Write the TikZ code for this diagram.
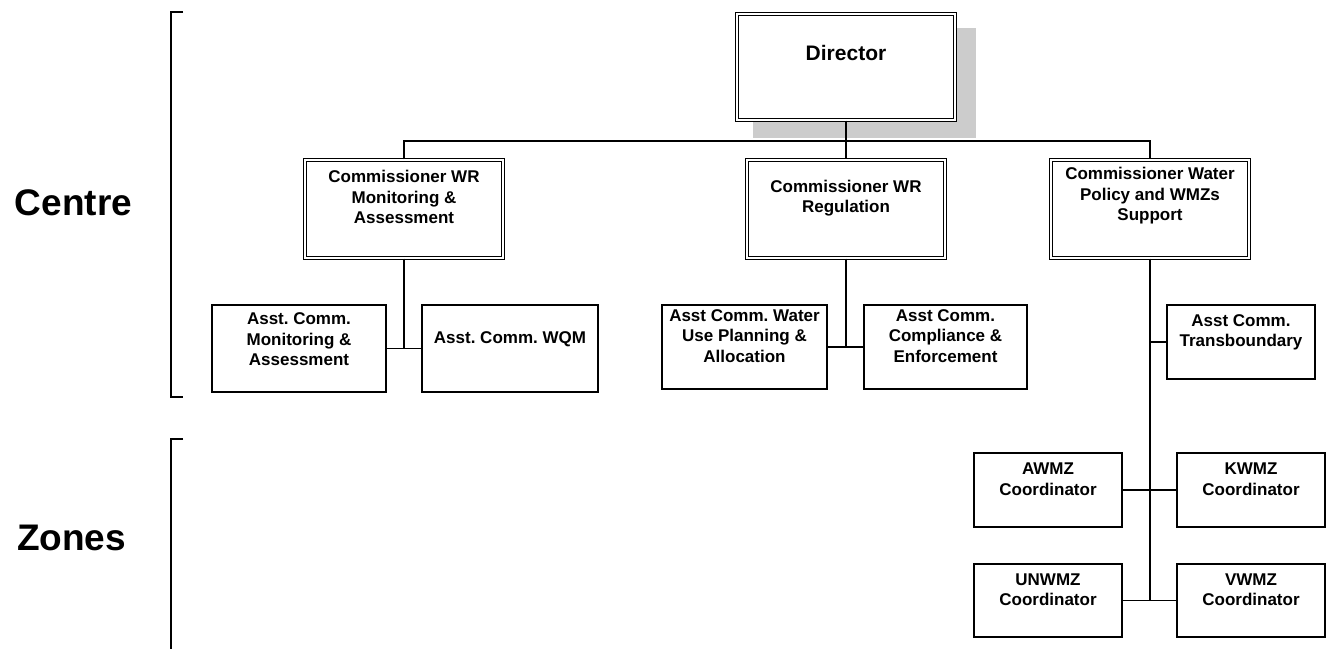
\documentclass[tikz,border=0pt]{standalone}
\usepackage{fontspec}
\setmainfont{Liberation Sans}
\frenchspacing
\begin{document}
\begin{tikzpicture}[x=1pt,y=-1pt,
  box/.style={draw, line width=1.6pt, fill=white, inner sep=0pt, rectangle},
  dbox/.style={draw, line width=1.3pt, double, double distance=1.8pt, fill=white, inner sep=0pt, rectangle},
  txt/.style={font=\bfseries\fontsize{17}{20.5}\selectfont, align=center, inner sep=0pt},
  link/.style={line width=1.8pt},
  brk/.style={line width=2.6pt},
  side/.style={font=\bfseries\fontsize{37}{40}\selectfont, inner sep=0pt}]
\useasboundingbox (0,0) rectangle (1333,648);

% brackets and side labels
\draw[brk] (183,12) -- (171,12) -- (171,397) -- (183,397);
\draw[brk] (183,439) -- (171,439) -- (171,652);
\node[side] (centre) at (73.5,203) {Centre};
\node[side] (zones) at (71.5,538) {Zones};

% director shadow
\fill[black!20] (753,28) rectangle (976,138);

% director
\node[dbox, minimum width=218pt, minimum height=106pt,
  label={[font=\bfseries\fontsize{21}{24}\selectfont, yshift=14pt]center:Director}] (dir) at (846,67) {};

% commissioners
\node[dbox, minimum width=198pt, minimum height=98pt,
  label={[txt, yshift=12pt]center:{Commissioner WR\\Monitoring \&\\Assessment}}] (c1) at (404,209) {};
\node[dbox, minimum width=198pt, minimum height=98pt,
  label={[txt, yshift=11pt]center:{Commissioner WR\\Regulation}}] (c2) at (846,209) {};
\node[dbox, minimum width=198pt, minimum height=98pt,
  label={[txt, yshift=13pt]center:{Commissioner Water\\Policy and WMZs\\Support}}] (c3) at (1150,209) {};

% assistant commissioners
\node[box, minimum width=174pt, minimum height=87pt,
  label={[txt, yshift=9pt]center:{Asst. Comm.\\Monitoring \&\\Assessment}}] (s1) at (299,348.5) {};
\node[box, minimum width=176pt, minimum height=87pt,
  label={[txt, yshift=9pt]center:{Asst. Comm. WQM}}] (s2) at (510,348.5) {};
\node[box, minimum width=165pt, minimum height=84pt,
  label={[txt, yshift=11pt]center:{Asst Comm. Water\\Use Planning \&\\Allocation}}] (m1) at (744.5,347) {};
\node[box, minimum width=163pt, minimum height=84pt,
  label={[txt, yshift=11pt]center:{Asst Comm.\\Compliance \&\\Enforcement}}] (m2) at (945.5,347) {};
\node[box, minimum width=148pt, minimum height=74pt,
  label={[txt, yshift=9.5pt]center:{Asst Comm.\\Transboundary}}] (t) at (1241,342) {};

% zone coordinators
\node[box, minimum width=148pt, minimum height=74pt,
  label={[txt, yshift=11pt]center:{AWMZ\\Coordinator}}] (a) at (1048,490) {};
\node[box, minimum width=148pt, minimum height=74pt,
  label={[txt, yshift=11pt]center:{KWMZ\\Coordinator}}] (k) at (1251,490) {};
\node[box, minimum width=148pt, minimum height=73pt,
  label={[txt, yshift=11pt]center:{UNWMZ\\Coordinator}}] (u) at (1048,600.5) {};
\node[box, minimum width=148pt, minimum height=73pt,
  label={[txt, yshift=11pt]center:{VWMZ\\Coordinator}}] (v) at (1251,600.5) {};

% connectors
\draw[link] (dir.south) -- (c2.north);
\draw[link] (c1.north) -- ++(0,-18) -| (c3.north);
\draw[link] (c1.south) -- (c1.south |- s1.east);
\draw[link] (s1.east) -- (s2.west);
\draw[link] (c2.south) -- (c2.south |- m1.east);
\draw[link] (m1.east) -- (m2.west);
\draw[link] (c3.south) -- (c3.south |- u.east);
\draw[link] (t.west) -- (c3.south |- t.west);
\draw[link] (a.east) -- (k.west);
\draw[link] (u.east) -- (v.west);
\end{tikzpicture}
\end{document}
